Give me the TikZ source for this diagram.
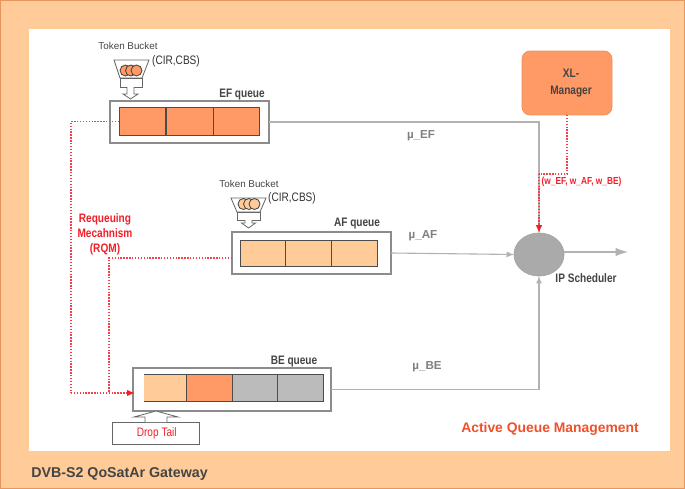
\documentclass[tikz,border=0pt]{standalone}
\usepackage{fontspec}
\usetikzlibrary{shapes.geometric,arrows.meta}
\setmainfont{Liberation Sans}
\newfontfamily\condfont[FakeStretch=0.82]{Liberation Sans}
\definecolor{pageorange}{HTML}{FFCC99}
\definecolor{edgeorange}{HTML}{E8965F}
\definecolor{efcolor}{HTML}{FF9966}
\definecolor{becolor}{HTML}{BBBBBB}
\definecolor{schedcolor}{HTML}{AAAAAA}
\definecolor{rqmred}{rgb}{0.95,0.12,0.16}
\definecolor{aqmred}{HTML}{F0502A}
\definecolor{darktext}{HTML}{444444}
\tikzset{
  queuebox/.style={draw=black!45, line width=0.024cm, fill=white, inner sep=0pt, outer sep=0pt},
  qcell/.style={draw=black!70, line width=0.02cm, inner sep=0pt, outer sep=0pt, minimum height=0.56cm},
  feedline/.style={draw=black!30, line width=0.022cm},
  feedtip/.style={-{Latex[length=0.15cm,width=0.12cm]}},
  rqmline/.style={color=rqmred!85, line width=0.026cm, dash pattern=on 0.028cm off 0.03cm},
  rqmtip/.style={-{Latex[length=0.16cm,width=0.13cm,color=rqmred]}},
  bucketline/.style={draw=black!60, line width=0.016cm},
  qlabel/.style={font=\condfont\bfseries\fontsize{7}{8}\selectfont, text=darktext, inner sep=0pt},
  ratelabel/.style={font=\bfseries\fontsize{6.6}{8}\selectfont, text=black!50, inner sep=0pt},
  tokenlabel/.style={font=\fontsize{5.6}{7}\selectfont, text=darktext, inner sep=0pt},
  cirlabel/.style={font=\condfont\fontsize{7}{8}\selectfont, text=black!80, inner sep=0pt},
  redlabel/.style={font=\condfont\bfseries\fontsize{7}{8.6}\selectfont, text=rqmred, inner sep=0pt, align=center}
}
\begin{document}
\begin{tikzpicture}[x=0.02cm,y=-0.02cm]
    \useasboundingbox (0,0) rectangle (685,489);

    % Drawing page background
    \fill [pageorange] (0,0) rectangle (685,489);
    \draw [edgeorange, line width=0.04cm] (0,0) rectangle (685,489);
    \fill [white] (29,29) rectangle (670,451);

    % Drawing token bucket of EF queue
    \draw [bucketline, fill=white] (114,60) -- (149,60) -- (142,78) -- (120,78) -- cycle;
    \draw [bucketline] (120,78) rectangle (142,87);
    \draw [bucketline, fill=white] (127,87) -- (127,94) -- (123,94) -- (130.5,99) -- (138,94) -- (134,94) -- (134,87);
    \foreach \cx in {125.5,131,136.5}
        \draw [black!75, line width=0.016cm, fill=efcolor] (\cx,70.5) circle (0.11cm);
    \node [tokenlabel] (eftoken) at (128,46) {Token Bucket};
    \node [cirlabel] (efcir) at (176,61) {(CIR,CBS)};

    % Drawing EF queue
    \node [queuebox, minimum width=3.18cm, minimum height=0.84cm] (efbox) at (189.5,122) {};
    \node [qcell, fill=efcolor, minimum width=0.94cm] (efa) at (142.5,121.5) {};
    \node [qcell, fill=efcolor, minimum width=0.94cm] (efb) at (189.5,121.5) {};
    \node [qcell, fill=efcolor, minimum width=0.92cm] (efc) at (236,121.5) {};
    \node [qlabel] (eflabel) at (242,95) {EF queue};

    % Drawing token bucket of AF queue
    \draw [bucketline, fill=white] (231,198) -- (266,198) -- (260,212) -- (237,212) -- cycle;
    \draw [bucketline] (237,212) rectangle (260,220);
    \draw [bucketline, fill=white] (245,220) -- (245,223) -- (241.5,223) -- (248.5,228) -- (255.5,223) -- (252,223) -- (252,220);
    \foreach \cx in {243.5,249,254.5}
        \draw [black!75, line width=0.016cm, fill=pageorange] (\cx,204) circle (0.11cm);
    \node [tokenlabel] (aftoken) at (249,184) {Token Bucket};
    \node [cirlabel] (afcir) at (292,198) {(CIR,CBS)};

    % Drawing AF queue
    \node [queuebox, minimum width=3.18cm, minimum height=0.84cm] (afbox) at (311.5,253) {};
    \node [qcell, fill=pageorange, minimum width=0.91cm, minimum height=0.54cm] (afa) at (262.75,253.5) {};
    \node [qcell, fill=pageorange, minimum width=0.91cm, minimum height=0.54cm] (afb) at (308.25,253.5) {};
    \node [qcell, fill=pageorange, minimum width=0.92cm, minimum height=0.54cm] (afc) at (354,253.5) {};
    \node [qlabel] (aflabel) at (357,224) {AF queue};

    % Drawing BE queue
    \node [queuebox, minimum width=3.96cm, minimum height=0.86cm] (bebox) at (232,389.5) {};
    \node [qcell, fill=pageorange, draw=none, minimum width=0.85cm, minimum height=0.54cm] (bea) at (165.25,387.5) {};
    \node [qcell, fill=efcolor, draw=none, minimum width=0.92cm, minimum height=0.54cm] (beb) at (209.5,387.5) {};
    \node [qcell, fill=becolor, draw=none, minimum width=0.90cm, minimum height=0.54cm] (bec) at (255,387.5) {};
    \node [qcell, fill=becolor, minimum width=0.92cm, minimum height=0.54cm] (bed) at (300.5,387.5) {};
    \draw [black!70, line width=0.02cm] (bea.north west) -- (bed.north west) (bea.south west) -- (bed.south west);
    \draw [black!70, line width=0.02cm] (bea.north east) -- (bea.south east) (beb.north east) -- (beb.south east);
    \node [qlabel] (belabel) at (294,362) {BE queue};

    % Drawing drop tail box and its arrow
    \node [draw=black!60, line width=0.016cm, fill=white, minimum width=1.75cm, minimum height=0.44cm, inner sep=0pt, outer sep=0pt, font=\condfont\fontsize{7}{8}\selectfont, text=rqmred] (droptail) at (156,433) {\hspace{0.03cm}Drop Tail};
    \draw [bucketline, fill=white] (145,422) -- (145,417) -- (134,417) -- (156,411) -- (178,417) -- (167,417) -- (167,422);

    % Drawing XL-Manager
    \node [draw=edgeorange, line width=0.016cm, fill=efcolor, rounded corners=0.16cm, minimum width=1.80cm, minimum height=1.28cm, inner sep=0pt, outer sep=0pt] (xlmgr) at (567,83) {};
    \node [align=center, inner sep=0pt, font=\condfont\bfseries\fontsize{7}{9.2}\selectfont, text=darktext] (xltext) at (571,83) {XL-\\Manager};

    % Drawing IP scheduler
    \node [ellipse, draw=black!35, line width=0.016cm, fill=schedcolor, minimum width=1.0cm, minimum height=0.86cm, inner sep=0pt, outer sep=0pt] (sched) at (539,254.5) {};
    \node [qlabel] (schedlabel) at (586,278) {IP Scheduler};
    \coordinate (schedout) at (628,252);

    % Drawing feed lines
    \draw [feedline, feedtip] (efbox.east) -| (sched.north);
    \draw [feedline, feedtip] (afbox.east) -- (sched.west);
    \draw [feedline, feedtip] (bebox.east) -| (sched.south);
    \draw [feedline, -{Latex[length=0.25cm,width=0.17cm]}] (sched.east |- schedout) -- (schedout);

    % Drawing requeuing lines
    \coordinate (efturn) at (71,393);
    \coordinate (afout) at (232,258);
    \coordinate (afturn) at (109,393);
    \coordinate (beentry) at (135,393);
    \draw [rqmline] (efa.west) -| (efturn);
    \draw [rqmline] (afout) -| (afturn);
    \draw [rqmline, rqmtip] (efturn) -- (beentry);

    % Drawing weight line
    \coordinate (wturn) at (539,174);
    \draw [rqmline] (xlmgr.south) |- (wturn);
    \draw [rqmline, rqmtip] (wturn) -- (sched.north);

    % Marking rates and red labels
    \node [ratelabel] (efrate) at (421,136) {µ\_EF};
    \node [ratelabel] (afrate) at (423,236) {µ\_AF};
    \node [ratelabel] (berate) at (427,367) {µ\_BE};
    \node [redlabel, font=\condfont\bfseries\fontsize{5.8}{7}\selectfont] (weights) at (581.5,182) {(w\_EF, w\_AF, w\_BE)};
    \node [redlabel] (rqmlabel) at (105,234) {Requeuing\\Mecahnism\\(RQM)};

    % Marking captions
    \node [font=\bfseries\fontsize{7.9}{9}\selectfont, text=aqmred, inner sep=0pt] (aqmlabel) at (550,429) {Active Queue Management};
    \node [font=\bfseries\fontsize{8.1}{9}\selectfont, text=darktext, inner sep=0pt, anchor=west] (gwlabel) at (31,474) {DVB-S2 QoSatAr Gateway};
\end{tikzpicture}
\end{document}
